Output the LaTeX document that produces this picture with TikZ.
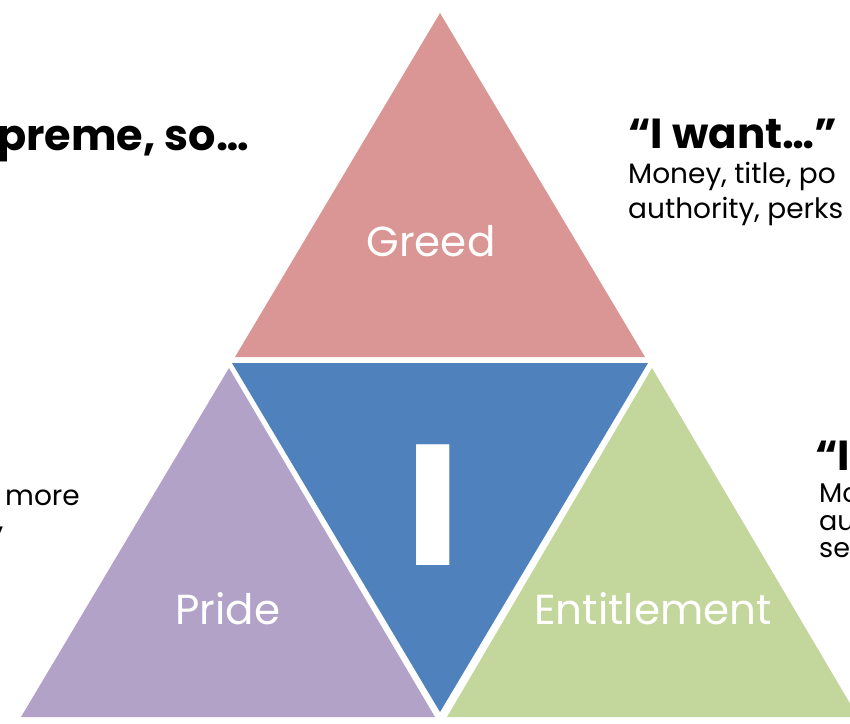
\documentclass[tikz,border=0pt]{standalone}
\usepackage{fontspec}
\setmainfont{Poppins}
\usepackage{graphicx}
\definecolor{gred}{HTML}{D99694}
\definecolor{iblue}{HTML}{4F81BD}
\definecolor{ppurple}{HTML}{B3A2C7}
\definecolor{egreen}{HTML}{C3D69B}
\begin{document}
\begin{tikzpicture}[x=1pt,y=-1pt,
  lbl/.style={text=white,font=\fontsize{42}{42}\selectfont,anchor=base,inner sep=0pt},
  ttl/.style={font=\fontsize{42}{42}\selectfont\bfseries,anchor=base west,inner sep=0pt},
  bod/.style={font=\fontsize{28}{28}\selectfont,anchor=base west,inner sep=0pt},
  bods/.style={font=\fontsize{27}{27}\selectfont,anchor=base west,inner sep=0pt}]
\useasboundingbox (0,0) rectangle (850,723);
\clip (0,0) rectangle (850,723);
\fill[white] (0,0) rectangle (850,723);
% triangles
\fill[gred] (440,13) -- (645,357) -- (235,357) -- cycle;
\fill[iblue] (232,363) -- (648,363) -- (440,712) -- cycle;
\fill[ppurple] (229,368) -- (435,717) -- (21,717) -- cycle;
\fill[egreen] (652,368) -- (858,717) -- (447,717) -- cycle;
% labels
\node[lbl] (greed) at (431,256) {Greed};
\node[lbl] (pride) at (228,624) {Pride};
\node[lbl] (entitle) at (653,624) {Entitlement};
\node[text=white,font=\fontsize{172}{172}\selectfont\bfseries,anchor=base,inner sep=0pt] (eye) at (433.5,565) {\scalebox{1.13}[1]{I}};
% texts
\node[font=\fontsize{43}{43}\selectfont\bfseries,anchor=base east,inner sep=0pt] (supreme) at (249,150) {preme, so…};
\node[ttl] (want) at (628,148) {“I want…”};
\node[bod] (want1) at (628,183) {Money, title, po};
\node[bod] (want2) at (628,218) {authority, perks};
\node[font=\fontsize{28}{28}\selectfont,anchor=base west,inner sep=0pt] (more) at (5,505) {more};
\node[font=\fontsize{28}{28}\selectfont,anchor=base west,inner sep=0pt] (comma) at (-2,530) {,};
\node[ttl] (right) at (815,470) {“I};
\node[bods] (right1) at (819,502) {Mo};
\node[bods] (right2) at (819,530) {aut};
\node[bods] (right3) at (819,557) {ser};
\end{tikzpicture}
\end{document}
